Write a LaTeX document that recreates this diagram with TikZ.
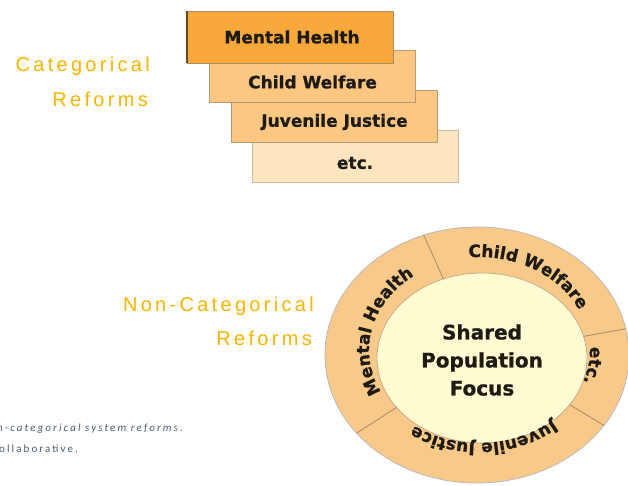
\documentclass[tikz,border=0pt]{standalone}
\usepackage{fontspec}
\setmainfont{Liberation Sans}
\newfontfamily\heavy{DejaVu Sans}[BoldFeatures={FakeBold=0.9}]
\newfontfamily\goldfont{Liberation Sans}[LetterSpace=16.5]
\newfontfamily\notefont{Carlito}[LetterSpace=19]
\usetikzlibrary{shapes.geometric,decorations.text}
\definecolor{mhfill}{HTML}{F9A93B}
\definecolor{boxfill}{HTML}{FBC782}
\definecolor{etcfill}{HTML}{FDE5C0}
\definecolor{ringfill}{HTML}{F9C98A}
\definecolor{corefill}{HTML}{FFFCD2}
\definecolor{gold}{HTML}{F5B400}
\definecolor{notecol}{HTML}{4A5A6E}
\definecolor{edgecol}{HTML}{B89A70}
\definecolor{inkcol}{HTML}{1E1A14}
\newcommand\ringfont{\heavy\bfseries\fontsize{17}{17}\selectfont\color{inkcol}}
\tikzset{
  catbox/.style={draw=edgecol, line width=0.8pt, minimum width=206pt, minimum height=52pt, inner sep=0pt, outer sep=0pt},
  boxlabel/.style={font=\heavy\bfseries\fontsize{17}{17}\selectfont, text=inkcol, inner sep=0pt},
  goldtext/.style={anchor=base east, inner sep=0pt, text=gold, font=\goldfont\fontsize{20}{20}\selectfont},
  notetext/.style={anchor=base west, inner sep=0pt, text=notecol},
  divider/.style={draw=edgecol!90!black, line width=0.8pt},
  ringtext/.style={decorate, decoration={text along path, text align=center, text={|\ringfont|#1}}}
}
\begin{document}
\begin{tikzpicture}[x=1pt, y=1pt]
\useasboundingbox (0,0) rectangle (628,485);
% categorical boxes
\node[catbox, fill=etcfill, draw=edgecol!70] (etcb) at (355,328.5) {};
\node[catbox, fill=boxfill] (jjb) at (334.5,368.5) {};
\node[catbox, fill=boxfill] (cwb) at (312.5,409) {};
\node[catbox, fill=mhfill, draw=edgecol!90!black] (mhb) at (290,448) {};
\draw[line width=2pt, draw=brown!55!black] (mhb.north west) -- (mhb.south west);
\node[boxlabel] (mht) at ([xshift=2pt]mhb.center) {Mental Health};
\node[boxlabel] (cwt) at ([yshift=-6pt]cwb.center) {Child Welfare};
\node[boxlabel] (jjt) at ([yshift=-5.5pt]jjb.center) {Juvenile Justice};
\node[boxlabel] (etct) at ([yshift=-6.5pt]etcb.center) {etc.};
% side labels
\node[goldtext] (cat1) at (150,413) {Categorical};
\node[goldtext] (cat2) at (148,378) {Reforms};
\node[goldtext] (non1) at (314,174) {Non-Categorical};
\node[goldtext] (non2) at (312,140) {Reforms};
% ring
\node[ellipse, draw=gray!55, line width=0.8pt, fill=ringfill, minimum width=304pt, minimum height=256pt, inner sep=0pt, outer sep=0pt] (outer) at (477,130) {};
\node[ellipse, draw=edgecol!80, line width=0.8pt, fill=corefill, minimum width=210pt, minimum height=170pt, inner sep=0pt, outer sep=0pt] (core) at (482,127) {};
\draw[divider] (outer.114.6) -- (core.116.6);
\draw[divider] (outer.10.9) -- (core.12.8);
\draw[divider] (outer.-29.3) -- (core.-28.7);
\draw[divider] (outer.213.7) -- (core.210.5);
\node[font=\heavy\bfseries\fontsize{20}{28}\selectfont, text=inkcol, align=center] (focus) at (482,125) {Shared\\Population\\Focus};
\coordinate (rc) at (479,135);
\path[ringtext={Mental Health}] ([shift={(217:110 and 92)}]rc) arc[start angle=217, end angle=117, x radius=110, y radius=92];
\path[ringtext={Child Welfare}] ([shift={(112:111 and 93)}]rc) arc[start angle=112, end angle=6, x radius=111, y radius=93];
\path[ringtext={etc.}] ([shift={(10:111 and 92)}]rc) arc[start angle=10, end angle=-28, x radius=111, y radius=92];
\path[ringtext={Juvenile Justice}] ([shift={(-30:112 and 93)}]rc) arc[start angle=-30, end angle=-144, x radius=112, y radius=93];
% note text
\node[notetext, font=\notefont\itshape\fontsize{11}{11}\selectfont] (note1) at (-3,54) {n-categorical system reforms.};
\node[notetext, font=\notefont\fontsize{11}{11}\selectfont] (note2) at (-1,33) {ollaborative.};
\end{tikzpicture}
\end{document}
